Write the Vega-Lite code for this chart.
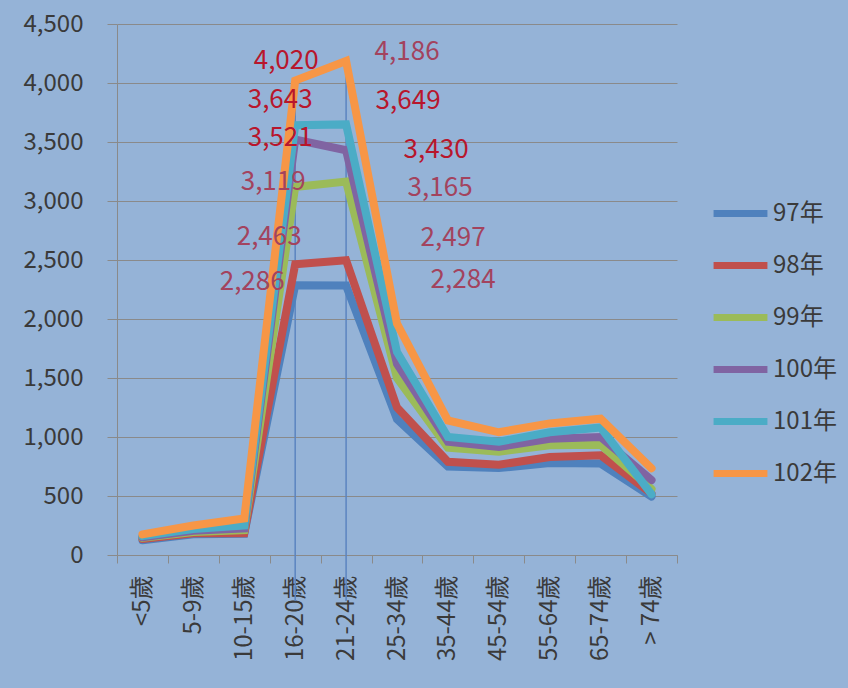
{
  "$schema": "https://vega.github.io/schema/vega-lite/v6.json",
  "autosize": {"type": "none"},
  "width": 560,
  "height": 531,
  "padding": {"left": 117, "top": 24, "right": 171, "bottom": 133},
  "background": "#95b3d7",
  "config": {
    "view": {"stroke": null},
    "font": "Noto Sans CJK TC",
    "axis": {"labelFont": "Noto Sans CJK TC", "labelFontSize": 24, "labelColor": "#3a3a3a", "domainColor": "#8a8a8a", "tickColor": "#8a8a8a", "gridColor": "#8a8a8a", "title": null},
    "legend": {"labelFont": "Noto Sans CJK TC"}
  },
  "data": {
    "values": [
      {"series": "97年", "age": "<5歲", "value": 125},
      {"series": "97年", "age": "5-9歲", "value": 175},
      {"series": "97年", "age": "10-15歲", "value": 180},
      {"series": "97年", "age": "16-20歲", "value": 2286},
      {"series": "97年", "age": "21-24歲", "value": 2284},
      {"series": "97年", "age": "25-34歲", "value": 1150},
      {"series": "97年", "age": "35-44歲", "value": 750},
      {"series": "97年", "age": "45-54歲", "value": 737},
      {"series": "97年", "age": "55-64歲", "value": 780},
      {"series": "97年", "age": "65-74歲", "value": 775},
      {"series": "97年", "age": "> 74歲", "value": 495},
      {"series": "98年", "age": "<5歲", "value": 135},
      {"series": "98年", "age": "5-9歲", "value": 185},
      {"series": "98年", "age": "10-15歲", "value": 185},
      {"series": "98年", "age": "16-20歲", "value": 2463},
      {"series": "98年", "age": "21-24歲", "value": 2497},
      {"series": "98年", "age": "25-34歲", "value": 1250},
      {"series": "98年", "age": "35-44歲", "value": 790},
      {"series": "98年", "age": "45-54歲", "value": 765},
      {"series": "98年", "age": "55-64歲", "value": 830},
      {"series": "98年", "age": "65-74歲", "value": 845},
      {"series": "98年", "age": "> 74歲", "value": 520},
      {"series": "99年", "age": "<5歲", "value": 145},
      {"series": "99年", "age": "5-9歲", "value": 195},
      {"series": "99年", "age": "10-15歲", "value": 210},
      {"series": "99年", "age": "16-20歲", "value": 3119},
      {"series": "99年", "age": "21-24歲", "value": 3165},
      {"series": "99年", "age": "25-34歲", "value": 1500},
      {"series": "99年", "age": "35-44歲", "value": 910},
      {"series": "99年", "age": "45-54歲", "value": 875},
      {"series": "99年", "age": "55-64歲", "value": 930},
      {"series": "99年", "age": "65-74歲", "value": 935},
      {"series": "99年", "age": "> 74歲", "value": 560},
      {"series": "100年", "age": "<5歲", "value": 150},
      {"series": "100年", "age": "5-9歲", "value": 205},
      {"series": "100年", "age": "10-15歲", "value": 225},
      {"series": "100年", "age": "16-20歲", "value": 3521},
      {"series": "100年", "age": "21-24歲", "value": 3430},
      {"series": "100年", "age": "25-34歲", "value": 1620},
      {"series": "100年", "age": "35-44歲", "value": 960},
      {"series": "100年", "age": "45-54歲", "value": 915},
      {"series": "100年", "age": "55-64歲", "value": 985},
      {"series": "100年", "age": "65-74歲", "value": 1000},
      {"series": "100年", "age": "> 74歲", "value": 635},
      {"series": "101年", "age": "<5歲", "value": 160},
      {"series": "101年", "age": "5-9歲", "value": 220},
      {"series": "101年", "age": "10-15歲", "value": 250},
      {"series": "101年", "age": "16-20歲", "value": 3643},
      {"series": "101年", "age": "21-24歲", "value": 3649},
      {"series": "101年", "age": "25-34歲", "value": 1720},
      {"series": "101年", "age": "35-44歲", "value": 1000},
      {"series": "101年", "age": "45-54歲", "value": 960},
      {"series": "101年", "age": "55-64歲", "value": 1040},
      {"series": "101年", "age": "65-74歲", "value": 1080},
      {"series": "101年", "age": "> 74歲", "value": 515},
      {"series": "102年", "age": "<5歲", "value": 175},
      {"series": "102年", "age": "5-9歲", "value": 250},
      {"series": "102年", "age": "10-15歲", "value": 310},
      {"series": "102年", "age": "16-20歲", "value": 4020},
      {"series": "102年", "age": "21-24歲", "value": 4186},
      {"series": "102年", "age": "25-34歲", "value": 1960},
      {"series": "102年", "age": "35-44歲", "value": 1140},
      {"series": "102年", "age": "45-54歲", "value": 1040},
      {"series": "102年", "age": "55-64歲", "value": 1115},
      {"series": "102年", "age": "65-74歲", "value": 1155},
      {"series": "102年", "age": "> 74歲", "value": 735}
    ]
  },
  "encoding": {
    "x": {
      "field": "age", "type": "nominal",
      "scale": {"type": "band", "paddingInner": 0, "paddingOuter": 0, "domain": ["<5歲", "5-9歲", "10-15歲", "16-20歲", "21-24歲", "25-34歲", "35-44歲", "45-54歲", "55-64歲", "65-74歲", "> 74歲"]},
      "axis": {"labelAngle": -90, "labelAlign": "right", "labelBaseline": "middle", "tickBand": "extent", "tickSize": 8, "labelPadding": 12, "grid": false, "domainWidth": 1}
    },
    "y": {
      "field": "value", "type": "quantitative",
      "scale": {"domain": [0, 4500], "nice": false},
      "axis": {"values": [0, 500, 1000, 1500, 2000, 2500, 3000, 3500, 4000, 4500], "format": ",.0f", "tickSize": 10, "labelPadding": 24, "grid": true, "domain": true}
    }
  },
  "layer": [
    {
      "transform": [{"filter": "datum.series == '102年' && (datum.age == '16-20歲' || datum.age == '21-24歲')"}],
      "mark": {"type": "rule", "color": "#5b84c0", "strokeWidth": 1.5},
      "encoding": {"y2": {"datum": -390}}
    },
    {
      "mark": {"type": "line", "strokeWidth": 8, "strokeCap": "round", "strokeJoin": "miter"},
      "encoding": {
        "color": {
          "field": "series", "type": "nominal",
          "scale": {"domain": ["97年", "98年", "99年", "100年", "101年", "102年"], "range": ["#4f81bd", "#c0504d", "#9bbb59", "#8064a2", "#4bacc6", "#f79646"]},
          "legend": {"orient": "none", "legendX": 593, "legendY": 159, "title": null, "symbolType": "stroke", "symbolStrokeWidth": 7, "symbolSize": 2900, "labelFontSize": 24, "labelColor": "#3a3a3a", "rowPadding": 7, "labelOffset": 2}
        }
      }
    },
    {
      "transform": [{"filter": "datum.age == '16-20歲' || datum.age == '21-24歲'"}],
      "mark": {
        "type": "text", "fontSize": 26, "align": "center", "baseline": "middle",
        "fill": {"expr": "(datum.series == '101年' || datum.series == '100年' || (datum.series == '102年' && datum.age == '16-20歲')) ? '#b8162c' : '#a3435e'"},
        "dx": {"expr": "datum.age == '16-20歲' ? (datum.series == '102年' ? -9 : datum.series == '101年' ? -15 : datum.series == '100年' ? -15 : datum.series == '99年' ? -22 : datum.series == '98年' ? -26 : -43) : (datum.series == '102年' ? 61 : datum.series == '101年' ? 62 : datum.series == '100年' ? 90 : datum.series == '99年' ? 94 : datum.series == '98年' ? 107 : 117)"},
        "dy": {"expr": "datum.age == '16-20歲' ? (datum.series == '102年' ? -20 : datum.series == '101年' ? -25 : datum.series == '100年' ? -2 : datum.series == '99年' ? -5 : datum.series == '98年' ? -27 : -3) : (datum.series == '102年' ? -9 : datum.series == '101年' ? -23 : datum.series == '100年' ? 0 : datum.series == '99年' ? 6 : datum.series == '98年' ? -22 : -5)"}
      },
      "encoding": {"text": {"field": "value", "type": "quantitative", "format": ","}}
    }
  ]
}
